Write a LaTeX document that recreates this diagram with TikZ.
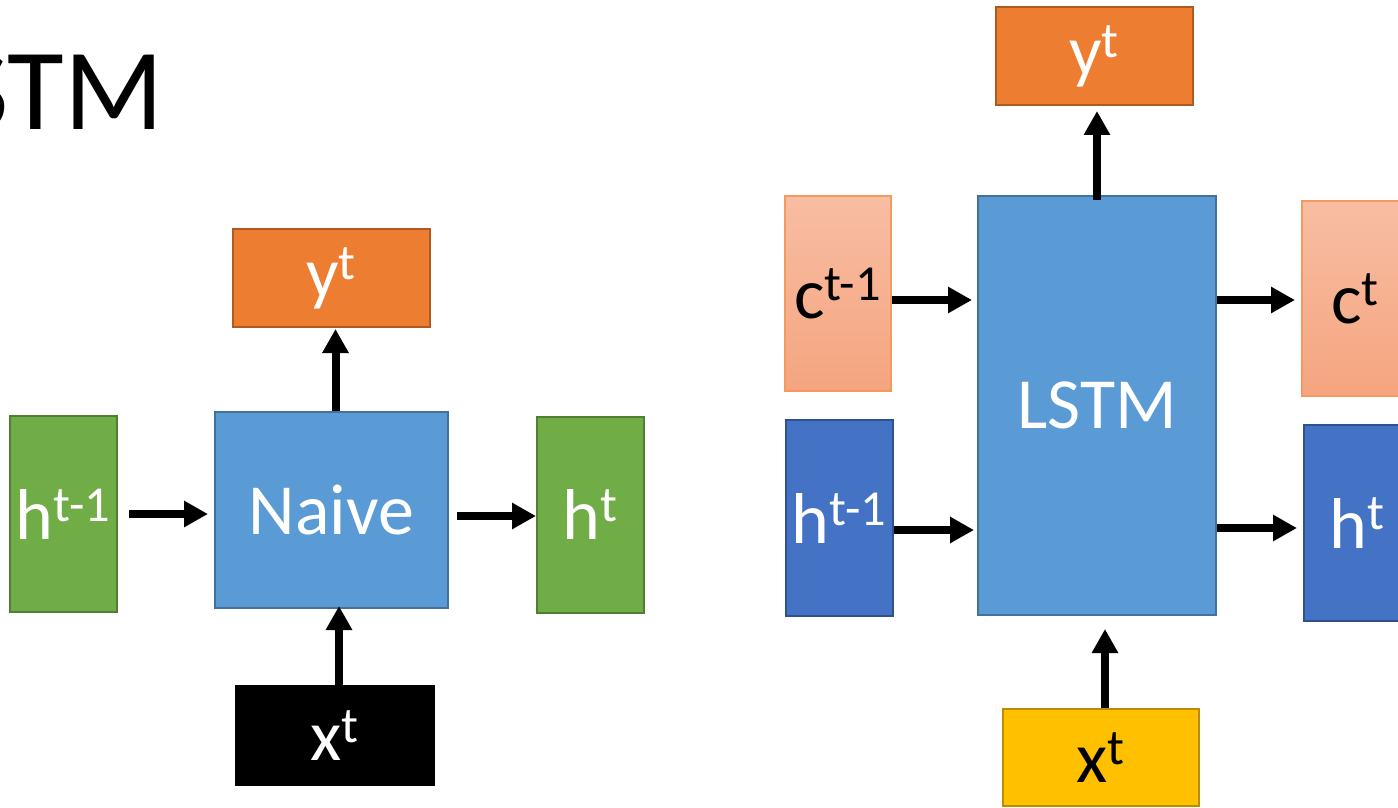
\documentclass[tikz,border=0pt]{standalone}
\usepackage{fontspec}
\setmainfont{Carlito}
\usetikzlibrary{arrows.meta}
\definecolor{gfill}{HTML}{70AD47}\definecolor{gdraw}{HTML}{507E32}
\definecolor{bfill}{HTML}{5B9BD5}\definecolor{bdraw}{HTML}{41719C}
\definecolor{ofill}{HTML}{ED7D31}\definecolor{odraw}{HTML}{AE5A21}
\definecolor{dfill}{HTML}{4472C4}\definecolor{ddraw}{HTML}{2F528F}
\definecolor{yfill}{HTML}{FFC000}\definecolor{ydraw}{HTML}{BC8C00}
\definecolor{ctop}{HTML}{F8BDA3}\definecolor{cbot}{HTML}{F5A57F}\definecolor{cdraw}{HTML}{F39A5E}
\begin{document}
\begin{tikzpicture}[x=0.5pt,y=-0.5pt,
  box/.style={draw, line width=1pt, inner sep=0pt, font=\fontsize{36}{40}\selectfont, text=white},
  green/.style={box, fill=gfill, draw=gdraw, minimum width=53.5pt, minimum height=98pt},
  orangebox/.style={box, fill=ofill, draw=odraw, minimum width=98.5pt, minimum height=49pt},
  cbox/.style={box, text=black, top color=ctop, bottom color=cbot, draw=cdraw, minimum width=53.5pt, minimum height=97.5pt},
  dbox/.style={box, fill=dfill, draw=ddraw, minimum width=53.5pt, minimum height=98pt},
  arr/.style={line width=4pt, -{Triangle[length=12pt,width=12.5pt]}},
]
\useasboundingbox (0,0) rectangle (1398,808);
\clip (0,0) rectangle (1398,808);

\node[anchor=base east, font=\fontsize{58}{62}\selectfont, inner sep=0pt] (title) at (164,130) {LSTM};

% left diagram
\node[green] (hL) at (63.5,514) {h\textsuperscript{t-1}};
\node[box, fill=bfill, draw=bdraw, minimum width=116.5pt, minimum height=98pt] (naive) at (331.5,510) {Naive};
\node[orangebox] (yL) at (331.5,278) {y\textsuperscript{t}};
\node[green] (hR1) at (590.5,514.5) {h\textsuperscript{t}};
\node[box, fill=black, draw=black, minimum width=99pt, minimum height=49.5pt] (xL) at (335,735.5) {x\textsuperscript{t}};

\draw[arr, shorten <=5.5pt, shorten >=3pt] (hL.east) -- (hL.east -| naive.west);
\coordinate (n2) at ([yshift=-3pt]naive.east);
\draw[arr, shorten <=4pt] (n2) -- (n2 -| hR1.west);
\coordinate (n3) at ([xshift=2pt]naive.north);
\draw[arr, shorten >=0.5pt] (n3) -- (n3 |- yL.south);
\coordinate (n4) at ([xshift=2pt]xL.north);
\draw[arr, shorten >=-1.5pt] (n4) -- (n4 |- naive.south);

% right diagram
\node[orangebox] (yR) at (1094.5,56) {y\textsuperscript{t}};
\node[box, fill=bfill, draw=bdraw, minimum width=119pt, minimum height=209.5pt] (lstm) at (1097,405.5) {LSTM};
\node[cbox, minimum width=53pt] (cL) at (838,293.5) {c\textsuperscript{t-1}};
\node[dbox] (hL2) at (839.5,518) {h\textsuperscript{t-1}};
\node[cbox] (cR) at (1355.5,298.5) {c\textsuperscript{t}};
\node[dbox] (hR2) at (1357.5,523) {h\textsuperscript{t}};
\node[box, text=black, fill=yfill, draw=ydraw, minimum width=98pt, minimum height=48.5pt] (xR) at (1101,757.5) {x\textsuperscript{t}};

\coordinate (r5) at ([yshift=-3.25pt]cL.east);
\draw[arr, shorten >=2.5pt] (r5) -- (r5 -| lstm.west);
\coordinate (r6) at ([yshift=-6pt]hL2.east);
\draw[arr, shorten >=1.5pt] (r6) -- (r6 -| lstm.west);
\coordinate (r7) at ([yshift=-0.75pt]cR.west);
\draw[arr, shorten >=3pt] (r7 -| lstm.east) -- (r7);
\coordinate (r8) at ([yshift=-2.5pt]hR2.west);
\draw[arr, shorten >=3pt] (r8 -| lstm.east) -- (r8);
\draw[arr, shorten <=-2.5pt, shorten >=2.5pt] (lstm.north) -- (lstm.north |- yR.south);
\coordinate (r10) at ([xshift=2pt]xR.north);
\draw[arr, shorten >=6.5pt] (r10) -- (r10 |- lstm.south);
\end{tikzpicture}
\end{document}
